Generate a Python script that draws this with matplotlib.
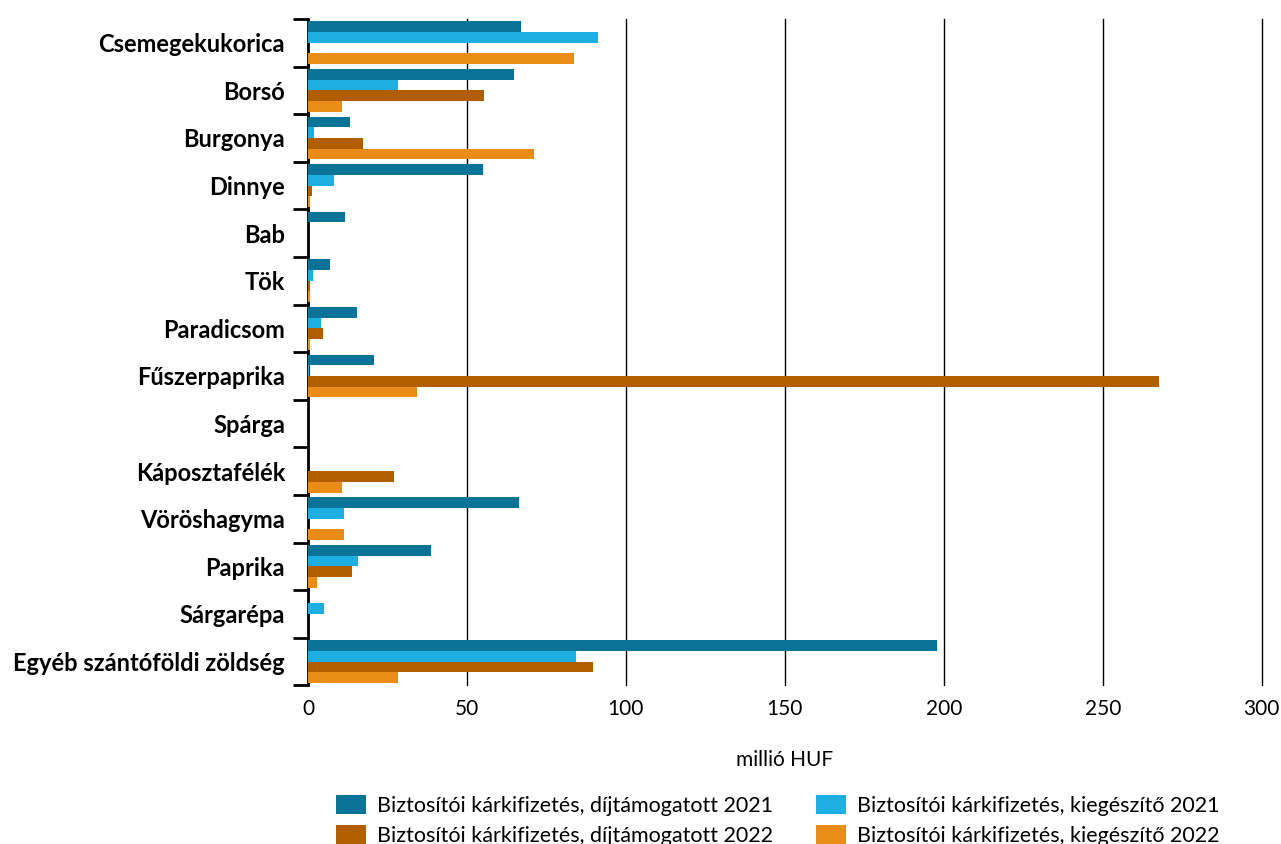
import numpy as np
import matplotlib
matplotlib.use("Agg")
import matplotlib.pyplot as plt

plt.rcParams['font.family'] = ['Lato', 'DejaVu Sans']

kategoriak = ['Csemegekukorica', 'Borsó', 'Burgonya', 'Dinnye', 'Bab', 'Tök',
              'Paradicsom', 'Fűszerpaprika', 'Spárga', 'Káposztafélék',
              'Vöröshagyma', 'Paprika', 'Sárgarépa', 'Egyéb szántóföldi zöldség']

dij_2021 = [67.0, 64.8, 13.2, 55.0, 11.6, 6.9, 15.3, 20.9, 0, 0, 66.4, 38.7, 0, 198.0]
kieg_2021 = [91.2, 28.4, 1.9, 8.1, 0, 1.5, 4.0, 0.4, 0, 0, 11.4, 15.8, 5.1, 84.3]
dij_2022 = [0, 55.3, 17.4, 1.4, 0, 0.5, 4.8, 267.6, 0, 27.0, 0, 13.7, 0, 89.6]
kieg_2022 = [83.6, 10.7, 71.1, 0.6, 0, 0.8, 0.8, 34.4, 0, 10.7, 11.4, 2.8, 0, 28.4]

sorozatok = [
    ('Biztosítói kárkifizetés, díjtámogatott 2021', dij_2021, '#0B7398'),
    ('Biztosítói kárkifizetés, kiegészítő 2021', kieg_2021, '#1EAFE2'),
    ('Biztosítói kárkifizetés, díjtámogatott 2022', dij_2022, '#B05E00'),
    ('Biztosítói kárkifizetés, kiegészítő 2022', kieg_2022, '#E98D18'),
]

fig = plt.figure(figsize=(12.81, 8.44), dpi=100)
ax = fig.add_axes([0.2404, 0.188, 0.7446, 0.7895])

y = np.arange(len(kategoriak))
h = 0.225
for i, (nev, ertek, szin) in enumerate(sorozatok):
    ax.barh(y + (i - 1.5) * h, ertek, height=h, color=szin, label=nev,
            linewidth=0, zorder=3)

ax.set_ylim(len(kategoriak) - 0.5, -0.5)
ax.set_xlim(0, 300)
ax.set_xticks(range(0, 301, 50))
ax.tick_params(axis='x', length=0, labelsize=15, pad=10)
ax.set_yticks(y)
ax.set_yticklabels(kategoriak, fontsize=17, fontweight='bold')
ax.tick_params(axis='y', which='major', length=0, pad=16.5)
ax.set_yticks(np.arange(-0.5, len(kategoriak)), minor=True)
ax.tick_params(axis='y', which='minor', length=11, width=2, color='black')

for x in range(50, 301, 50):
    ax.axvline(x, color='black', linewidth=1, zorder=1, clip_on=False)

for s in ['top', 'right', 'bottom']:
    ax.spines[s].set_visible(False)
ax.spines['left'].set_linewidth(2)

ax.set_xlabel('millió HUF', fontsize=15, labelpad=22)

# sorok szerinti sorrend a jelmagyarazatban
fogantyuk, cimkek = ax.get_legend_handles_labels()
rend = [0, 2, 1, 3]
fig.legend([fogantyuk[i] for i in rend], [cimkek[i] for i in rend],
           loc='upper center', bbox_to_anchor=(0.607, 0.068), ncol=2,
           frameon=False, fontsize=15.5, handlelength=1.4, handleheight=1.0,
           columnspacing=2.0, handletextpad=0.5, labelspacing=0.4,
           borderaxespad=0)

fig.savefig('out.png', dpi=100)
